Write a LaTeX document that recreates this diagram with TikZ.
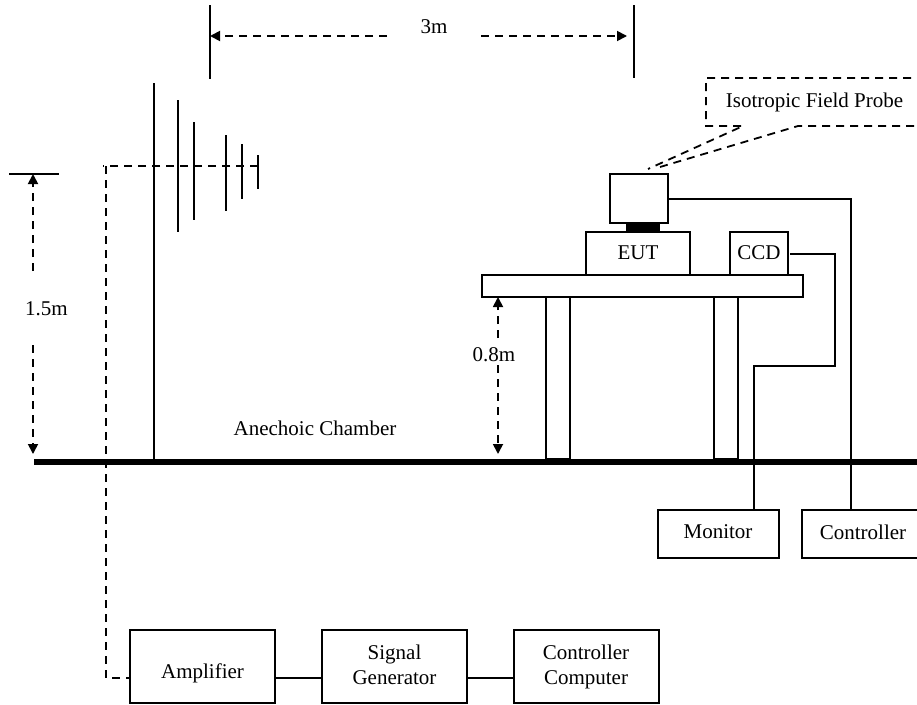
\documentclass[tikz,border=0pt]{standalone}
\usepackage{fontspec}
\setmainfont{Liberation Serif}
\usetikzlibrary{arrows.meta}
\tikzset{
  wire/.style={line width=1.8pt,line join=miter},
  dashline/.style={line width=1.8pt,dash pattern=on 8pt off 6pt},
  dimarrow/.style={dashline,-{Triangle[length=10pt,width=10pt]}},
  boxnode/.style={draw,line width=1.8pt,minimum width=#1,inner sep=0pt,outer sep=0pt},
  txt/.style={font=\fontsize{21}{25}\selectfont,inner sep=0pt,align=center,text depth=0pt},
}
\begin{document}
\begin{tikzpicture}[x=1pt,y=-1pt]
\useasboundingbox (0,0) rectangle (917,704);
\clip (0,0) rectangle (917,704);
% coordinates
\coordinate (dimL1) at (210,5); \coordinate (dimL2) at (210,79);
\coordinate (dimR1) at (634,5); \coordinate (dimR2) at (634,78);
\coordinate (dimLa) at (210,36); \coordinate (dimLb) at (387,36);
\coordinate (dimRa) at (481,36); \coordinate (dimRb) at (627,36);
\coordinate (barA) at (9,174); \coordinate (barB) at (59,174);
\coordinate (h15t) at (33,174); \coordinate (h15a) at (33,271);
\coordinate (h15b) at (33,345); \coordinate (h15g) at (33,454);
\coordinate (h08t) at (498,297); \coordinate (h08a) at (498,338);
\coordinate (h08b) at (498,365); \coordinate (h08g) at (498,454);
\coordinate (floorA) at (34,462); \coordinate (floorB) at (917,462);
\coordinate (ant0a) at (154,83); \coordinate (ant0b) at (154,459);
\coordinate (ant1a) at (178,100); \coordinate (ant1b) at (178,232);
\coordinate (ant2a) at (194,122); \coordinate (ant2b) at (194,220);
\coordinate (ant3a) at (226,135); \coordinate (ant3b) at (226,211);
\coordinate (ant4a) at (242,144); \coordinate (ant4b) at (242,199);
\coordinate (ant5a) at (258,155); \coordinate (ant5b) at (258,189);
\coordinate (feedEnd) at (258,166); \coordinate (feedCorner) at (106,166);
\coordinate (feedDown) at (106,678); \coordinate (feedAmp) at (130,678);
% boxes
\node[boxnode=145pt,minimum height=73pt] (amp) at (202.5,666.5) {};
\node[boxnode=145pt,minimum height=73pt] (sig) at (394.5,666.5) {};
\node[boxnode=145pt,minimum height=73pt] (comp) at (586.5,666.5) {};
\node[boxnode=121pt,minimum height=48pt] (mon) at (718.5,534) {};
\node[boxnode=130pt,minimum height=48pt] (ctl) at (867,534) {};
\node[boxnode=321pt,minimum height=22pt] (table) at (642.5,286) {};
\node[boxnode=24pt,minimum height=162pt] (legA) at (558,378) {};
\node[boxnode=24pt,minimum height=162pt] (legB) at (726,378) {};
\node[boxnode=104pt,minimum height=43pt] (eut) at (638,253.5) {};
\node[boxnode=58pt,minimum height=43pt] (ccd) at (759,253.5) {};
\node[boxnode=58pt,minimum height=49pt] (probe) at (639,198.5) {};
\node[draw,fill=black,line width=0pt,minimum width=33pt,minimum height=9pt,inner sep=0pt] (mount) at (642.5,227.5) {};
% solid lines
\draw[wire] (dimL1) -- (dimL2);
\draw[wire] (dimR1) -- (dimR2);
\draw[wire] (barA) -- (barB);
\draw[wire] (ant0a) -- (ant0b);
\draw[wire] (ant1a) -- (ant1b);
\draw[wire] (ant2a) -- (ant2b);
\draw[wire] (ant3a) -- (ant3b);
\draw[wire] (ant4a) -- (ant4b);
\draw[wire] (ant5a) -- (ant5b);
\draw[line width=6pt] (floorA) -- (floorB);
\coordinate (probeOut) at (668,199);
\coordinate (ccdOut) at (790,254);
\coordinate (ctlTop) at (851,510);
\coordinate (monTop) at (754,510);
\draw[wire] (probeOut) -| (ctlTop);
\draw[wire] (ccdOut) -- (835,254) -- (835,366) -- (754,366) -- (monTop);
\coordinate (ampOut) at (275,678); \coordinate (sigIn) at (322,678);
\coordinate (sigOut) at (467,678); \coordinate (compIn) at (514,678);
\draw[wire] (ampOut) -- (sigIn);
\draw[wire] (sigOut) -- (compIn);
% dashed lines
\draw[dashline] (feedEnd) -- (103,166);
\draw[dashline] (feedCorner) -- (feedDown) -- (feedAmp);
\draw[dimarrow] (dimLb) -- (dimLa);
\draw[dimarrow] (dimRa) -- (dimRb);
\draw[dimarrow] (h15a) -- (h15t);
\draw[dimarrow] (h15b) -- (h15g);
\draw[dimarrow] (h08a) -- (h08t);
\draw[dimarrow] (h08b) -- (h08g);
% callout
\coordinate (cTR) at (925,78); \coordinate (cTL) at (706,78);
\coordinate (cBL) at (706,126); \coordinate (cP1) at (743,126);
\coordinate (cT1) at (648,169); \coordinate (cT2) at (660,167);
\coordinate (cP2) at (798,126); \coordinate (cBR) at (925,126);
\draw[dashline] (cTR) -- (cTL) -- (cBL) -- (cP1) -- (cT1);
\draw[dashline] (cT2) -- (cP2) -- (cBR);
% texts
\node[txt] (t3m) at (434,27) {3m};
\node[txt] (t15) at (46.5,309) {1.5m};
\node[txt] (t08) at (494,355) {0.8m};
\node[txt] (tAC) at (315,428) {Anechoic Chamber};
\node[txt] (tIso) at (814.5,100) {Isotropic Field Probe};
\node[txt] (tEUT) at (638,253) {EUT};
\node[txt] (tCCD) at (759,253) {CCD};
\node[txt] (tMon) at (718,532) {Monitor};
\node[txt] (tCtl) at (863,532) {Controller};
\node[txt] (tAmp) at (202.5,671) {Amplifier};
\node[txt] (tSig) at (394.5,664.5) {Signal\\Generator};
\node[txt] (tCom) at (586,664.5) {Controller\\Computer};
\end{tikzpicture}
\end{document}
